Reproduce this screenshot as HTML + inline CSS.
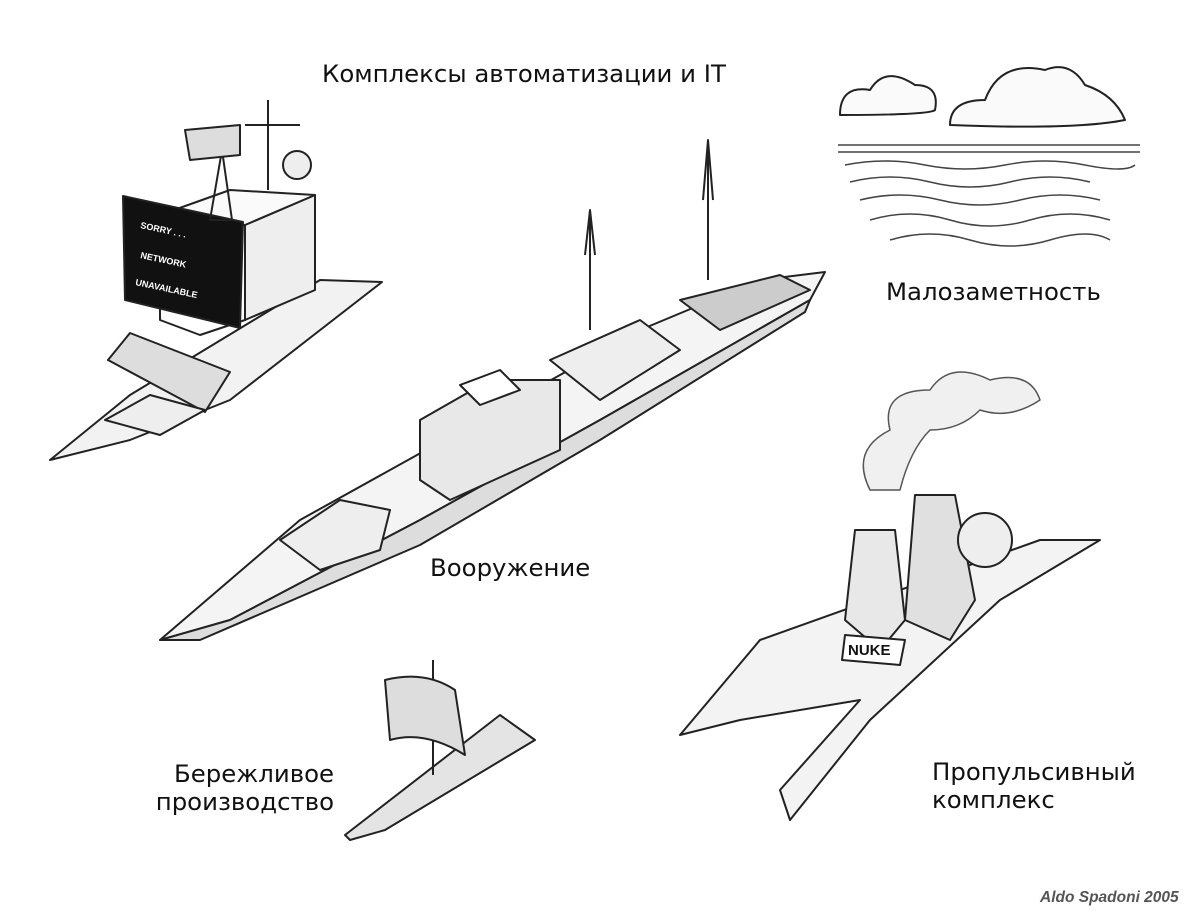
<!DOCTYPE html>
<html><head><meta charset="utf-8"><style>
html,body{margin:0;padding:0;background:#fff;}
.c{position:relative;width:1200px;height:917px;overflow:hidden;background:#fff;}
.t{position:absolute;font-family:"DejaVu Sans","Liberation Sans",sans-serif;font-size:24.4px;color:#111;white-space:nowrap;line-height:28px;}
svg{position:absolute;left:0;top:0;}
</style></head><body><div class="c">
<svg width="1200" height="917" viewBox="0 0 1200 917" fill="none" stroke="#222" stroke-width="2" stroke-linejoin="round">
<!-- computer ship -->
<polygon points="50,460 130,395 320,280 382,282 230,400 130,440" fill="#f2f2f2"/>
<polygon points="160,215 245,225 245,320 200,335 160,320" fill="#fff"/>
<polygon points="245,225 315,195 315,290 245,320" fill="#eee"/>
<polygon points="160,215 230,190 315,195 245,225" fill="#fafafa"/>
<polygon points="123,196 243,222 240,328 125,300" fill="#111"/>
<text x="140" y="228" fill="#fff" stroke="none" font-family="Liberation Sans" font-weight="bold" font-size="9" transform="rotate(12 140 228)">SORRY . . .</text>
<text x="140" y="258" fill="#fff" stroke="none" font-family="Liberation Sans" font-weight="bold" font-size="9" transform="rotate(12 140 258)">NETWORK</text>
<text x="135" y="285" fill="#fff" stroke="none" font-family="Liberation Sans" font-weight="bold" font-size="9" transform="rotate(12 135 285)">UNAVAILABLE</text>
<polygon points="108,360 130,333 230,372 205,412" fill="#ddd"/>
<polygon points="105,420 150,395 205,410 160,435" fill="#eee"/>
<line x1="268" y1="190" x2="268" y2="100"/><line x1="245" y1="125" x2="300" y2="125"/>
<circle cx="297" cy="165" r="14" fill="#eee"/>
<polygon points="210,220 222,150 232,220" fill="none"/>
<polygon points="185,130 240,125 240,155 190,160" fill="#ddd"/>
<!-- main ship -->
<polygon points="160,640 300,520 480,420 640,330 760,280 825,272 810,300 600,420 420,520 230,620" fill="#f4f4f4"/>
<polygon points="160,640 230,620 420,520 600,420 810,300 805,312 600,440 420,545 200,640" fill="#ddd"/>
<polygon points="420,420 490,380 560,380 560,450 450,500 420,480" fill="#e8e8e8"/>
<polygon points="460,385 500,370 520,390 480,405" fill="#fff"/>
<polygon points="280,540 340,500 390,510 380,550 320,570" fill="#eee"/>
<polygon points="550,360 640,320 680,350 600,400" fill="#eee"/>
<polygon points="680,300 780,275 810,290 720,330" fill="#ccc"/>
<line x1="590" y1="330" x2="590" y2="215"/><path d="M585 255 L590 210 L595 255"/>
<line x1="708" y1="280" x2="708" y2="150"/><path d="M703 200 L708 140 L713 200"/>
<!-- clouds & sea -->
<path d="M840 115 q0-30 30-25 q15-25 45-5 q25 0 20 25 q-5 5 -95 5z" fill="#fafafa"/>
<path d="M950 125 q0-25 35-25 q15-40 60-30 q25-10 40 15 q30 10 40 35 q-50 10 -175 5z" fill="#fafafa"/>
<g stroke="#444" stroke-width="1.5">
<line x1="838" y1="145" x2="1140" y2="145"/><line x1="838" y1="152" x2="1140" y2="152"/>
<path d="M845 165 q40 -8 80 0 t80 0 t80 0 t50 0"/>
<path d="M850 182 q40 -10 80 0 t80 0 t80 0"/>
<path d="M860 200 q40 -10 80 0 t80 0 t80 0"/>
<path d="M870 220 q40 -12 80 0 t80 0 t80 0"/>
<path d="M890 240 q40 -12 80 0 t80 0 t60 0"/>
</g>
<!-- smoke -->
<path d="M870 490 q-20-40 20-60 q-10-40 40-40 q20-30 60-10 q40-10 50 20 q-30 20 -60 10 q-20 20 -50 20 q-20 20 -30 60z" fill="#f0f0f0" stroke="#555" stroke-width="1.5"/>
<!-- catamaran -->
<polygon points="680,735 760,640 1040,540 1100,540 1000,600 870,720 790,820 780,790 860,700 740,720" fill="#f3f3f3"/>
<polygon points="855,530 895,530 905,620 880,650 845,620" fill="#e8e8e8"/>
<polygon points="915,495 955,495 975,600 950,640 905,620" fill="#e0e0e0"/>
<circle cx="985" cy="540" r="27" fill="#eee"/>
<polygon points="845,635 905,640 900,665 842,660" fill="#fff"/>
<text x="848" y="655" stroke="none" fill="#111" font-family="Liberation Sans" font-weight="bold" font-size="15">NUKE</text>
<!-- raft -->
<polygon points="345,835 500,715 535,740 385,830 350,840" fill="#e4e4e4"/>
<line x1="433" y1="660" x2="433" y2="775"/>
<path d="M385 680 q40-10 70 10 l10 65 q-40-25 -75-15 z" fill="#ddd"/>
</svg>
<div class="t" style="left:322px;top:60px">Комплексы автоматизации и IT</div>
<div class="t" style="left:886px;top:278px">Малозаметность</div>
<div class="t" style="left:430px;top:554px">Вооружение</div>
<div class="t" style="left:134px;top:760px;width:200px;text-align:right">Бережливое<br>производство</div>
<div class="t" style="left:932px;top:758px">Пропульсивный<br>комплекс</div>
<div class="t" style="left:1040px;top:889px;font-family:'Liberation Sans',sans-serif;font-size:15.5px;font-style:italic;font-weight:bold;color:#555;line-height:18px">Aldo Spadoni 2005</div>
</div></body></html>
